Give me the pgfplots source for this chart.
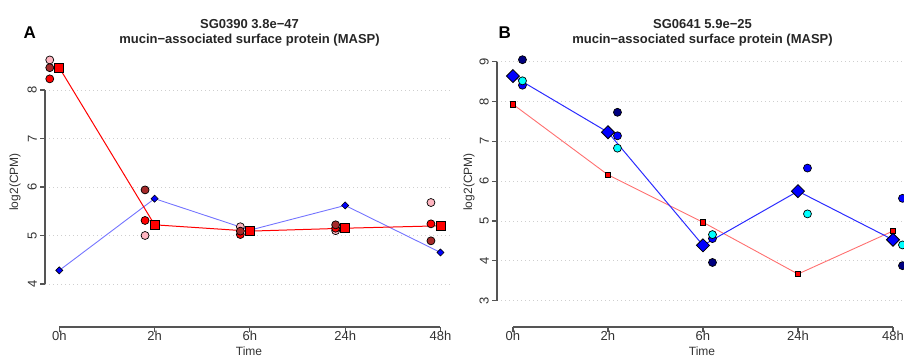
\documentclass[border=0pt]{standalone}
\usepackage{fontspec}
\setmainfont{Liberation Sans}
\usepackage{pgfplots}
\pgfplotsset{compat=1.18}

\definecolor{axcol}{HTML}{555555}
\definecolor{tickcol}{HTML}{333333}
\definecolor{gridcol}{HTML}{CFCFCF}
\definecolor{rpink}{HTML}{FFB6C1}
\definecolor{rred}{HTML}{FF0000}
\definecolor{rdark}{HTML}{A52A2A}
\definecolor{navyc}{HTML}{000080}
\definecolor{rblue}{HTML}{0000FF}
\definecolor{rcyan}{HTML}{00FFFF}
\definecolor{lblue}{HTML}{7474FF}
\definecolor{bline}{HTML}{2B2BFF}
\definecolor{lred}{HTML}{FF7070}

\pgfplotsset{
  rbase/.style={
    scale only axis, width=405pt, height=277pt,
    axis line style={draw=none},
    tick align=outside, major tick length=5pt,
    tick pos=left,
    tick style={axcol, line width=1.2pt},
    xtick={0,1,2,3,4}, xticklabels={0h,2h,6h,24h,48h},
    ymajorgrids, grid style={gridcol, dash pattern=on 1pt off 3pt, line width=0.8pt},
    ticklabel style={font=\fontsize{13}{15}\selectfont, text=tickcol},
    xticklabel style={anchor=north, inner sep=0pt, yshift=1.5pt},
    yticklabel style={rotate=90, anchor=south, inner sep=0pt, yshift=3pt},
    /pgf/number format/assume math mode=true,
    clip=false,
  },
  circ/.style={only marks, mark=*, mark size=4pt, mark options={draw=black, fill=#1, line width=0.7pt}},
}

\begin{document}
\begin{tikzpicture}
\path[use as bounding box] (0,0) rectangle (904pt,356pt);
\clip (0,0) rectangle (904pt,356pt);

% ---------------- Panel A ----------------
\begin{axis}[rbase, at={(45pt,29pt)}, anchor=south west,
  xmin=-0.15, xmax=4.1, ymin=3.113, ymax=8.825, ytick={4,5,6,7,8}]
\draw[axcol, line width=1.3pt] (axis cs:0,3.113) -- (axis cs:4,3.113);
\draw[axcol, line width=1.3pt] (axis cs:-0.15,4) -- (axis cs:-0.15,8);
% other group (small blue diamonds)
\addplot[lblue, line width=0.9pt, mark=square*, mark size=2.5pt,
  mark options={draw=black, fill=rblue, line width=0.6pt, rotate=45}]
  coordinates {(0,4.28) (1,5.76) (2,5.11) (3,5.62) (4,4.65)};
% replicates
\addplot[circ=rpink] coordinates {(-0.1,8.62) (0.9,5.00) (1.9,5.18) (2.9,5.10) (3.9,5.68)};
\addplot[circ=rred] coordinates {(-0.1,8.23) (0.9,5.31) (1.9,5.02) (2.9,5.15) (3.9,5.24)};
\addplot[circ=rdark] coordinates {(-0.1,8.46) (0.9,5.94) (1.9,5.09) (2.9,5.22) (3.9,4.89)};
% mean
\addplot[rred, line width=1pt, mark=square*, mark size=4.5pt,
  mark options={draw=black, fill=rred, line width=0.8pt}]
  coordinates {(0,8.46) (1,5.22) (2,5.09) (3,5.15) (4,5.20)};
\end{axis}

% ---------------- Panel B ----------------
\begin{axis}[rbase, at={(497pt,29pt)}, anchor=south west,
  xmin=-0.168, xmax=4.095, ymin=2.34, ymax=9.294, ytick={3,4,5,6,7,8,9}]
\draw[axcol, line width=1.3pt] (axis cs:0,2.34) -- (axis cs:4,2.34);
\draw[axcol, line width=1.3pt] (axis cs:-0.168,3) -- (axis cs:-0.168,9);
% other group (small red squares)
\addplot[lred, line width=0.9pt, mark=square*, mark size=2.7pt,
  mark options={draw=black, fill=rred, line width=0.6pt}]
  coordinates {(0,7.93) (1,6.16) (2,4.97) (3,3.67) (4,4.75)};
% mean
\addplot[bline, line width=1pt, mark=square*, mark size=4.6pt,
  mark options={draw=black, fill=rblue, line width=0.8pt, rotate=45}]
  coordinates {(0,8.64) (1,7.23) (2,4.39) (3,5.75) (4,4.53)};
% replicates
\addplot[circ=navyc] coordinates {(0.1,9.05) (1.1,7.73) (2.1,3.96) (4.1,3.88)};
\addplot[circ=rblue] coordinates {(0.1,8.41) (1.1,7.14) (2.1,4.56) (3.1,6.33) (4.1,5.57)};
\addplot[circ=rcyan] coordinates {(0.1,8.52) (1.1,6.83) (2.1,4.66) (3.1,5.18) (4.1,4.40)};
\end{axis}

% ---------------- Text ----------------
\node[anchor=base west, font=\fontsize{17}{20}\selectfont\bfseries] at (20pt,{356pt-38.3pt}) {A};
\node[anchor=base west, font=\fontsize{17}{20}\selectfont\bfseries] at (495pt,{356pt-38.3pt}) {B};
\node[anchor=base, font=\fontsize{13}{15}\selectfont\bfseries, text=black!85] at (249.5pt,{356pt-28.5pt}) {SG0390 3.8e−47};
\node[anchor=base, font=\fontsize{13}{15}\selectfont\bfseries, text=black!85] at (249.5pt,{356pt-43.5pt}) {mucin−associated surface protein (MASP)};
\node[anchor=base, font=\fontsize{13}{15}\selectfont\bfseries, text=black!85] at (702.5pt,{356pt-28.5pt}) {SG0641 5.9e−25};
\node[anchor=base, font=\fontsize{13}{15}\selectfont\bfseries, text=black!85] at (702.5pt,{356pt-43.5pt}) {mucin−associated surface protein (MASP)};
\node[rotate=90, anchor=center, font=\fontsize{12}{14}\selectfont, text=tickcol] at (15pt,{356pt-182pt}) {log2(CPM)};
\node[rotate=90, anchor=center, font=\fontsize{12}{14}\selectfont, text=tickcol] at (469pt,{356pt-182pt}) {log2(CPM)};
\node[anchor=base, font=\fontsize{12}{14}\selectfont, text=tickcol, inner sep=0pt] at (249pt,{356pt-355pt}) {Time};
\node[anchor=base, font=\fontsize{12}{14}\selectfont, text=tickcol, inner sep=0pt] at (702pt,{356pt-355pt}) {Time};
\end{tikzpicture}
\end{document}
